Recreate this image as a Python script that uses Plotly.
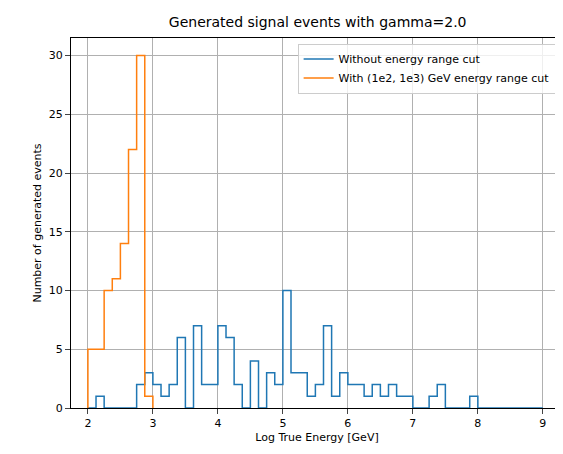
import plotly.graph_objects as go
import numpy as np

bin_start = 2.0
bin_width = 0.125
blue_counts = [0,1,0,0,0,0,2,3, 2,1,2,6,0,7,2,2, 7,6,2,0,4,0,3,2, 10,3,3,1,2,7,1,3,
               2,2,1,2,1,2,1,1, 0,0,1,2,0,0,0,1, 0,0,0,0,0,0,0,0]
orange_counts = [5,5,10,11,14,22,30,1]

def step(counts):
    edges = bin_start + bin_width*np.arange(len(counts)+1)
    y = list(counts) + [counts[-1]]
    xs = [edges[0]] + list(edges)
    ys = [0] + y
    xs.append(edges[-1]); ys.append(0)
    return xs, ys

fig = go.Figure()
for counts, color, name in [(blue_counts, "#1f77b4", "Without energy range cut"),
                            (orange_counts, "#ff7f0e", "With (1e2, 1e3) GeV energy range cut")]:
    x, y = step(counts)
    fig.add_trace(go.Scatter(x=x, y=y, mode="lines", line=dict(color=color, width=1.5, shape="hv"), name=name))

fig.update_layout(
    width=563, height=454, margin=dict(l=63, r=8, t=30, b=54, autoexpand=False),
    plot_bgcolor="white", paper_bgcolor="white",
    font=dict(family="DejaVu Sans", size=11, color="black"),
    title=dict(text="Generated signal events with gamma=2.0", x=0.55, y=0.97, xanchor="center", yanchor="middle", font=dict(size=14)),
    legend=dict(x=0.985, y=0.985, xanchor="right", yanchor="top", bordercolor="#cccccc", borderwidth=1,
                bgcolor="rgba(255,255,255,0.8)", font=dict(size=11), tracegroupgap=0),
    xaxis=dict(title=dict(text="Log True Energy [GeV]", standoff=4, font=dict(size=11)), range=[1.74, 9.31], tickvals=list(range(2,10)),
               automargin=False, showgrid=True, gridcolor="#b0b0b0", showline=True, linecolor="black", mirror=True, ticks="outside", zeroline=False),
    yaxis=dict(title=dict(text="Number of generated events", standoff=4, font=dict(size=11)), range=[0, 31.5], tickvals=list(range(0,31,5)),
               automargin=False, showgrid=True, gridcolor="#b0b0b0", showline=True, linecolor="black", mirror=True, ticks="outside", zeroline=False),
)
fig.write_html("out.html")
